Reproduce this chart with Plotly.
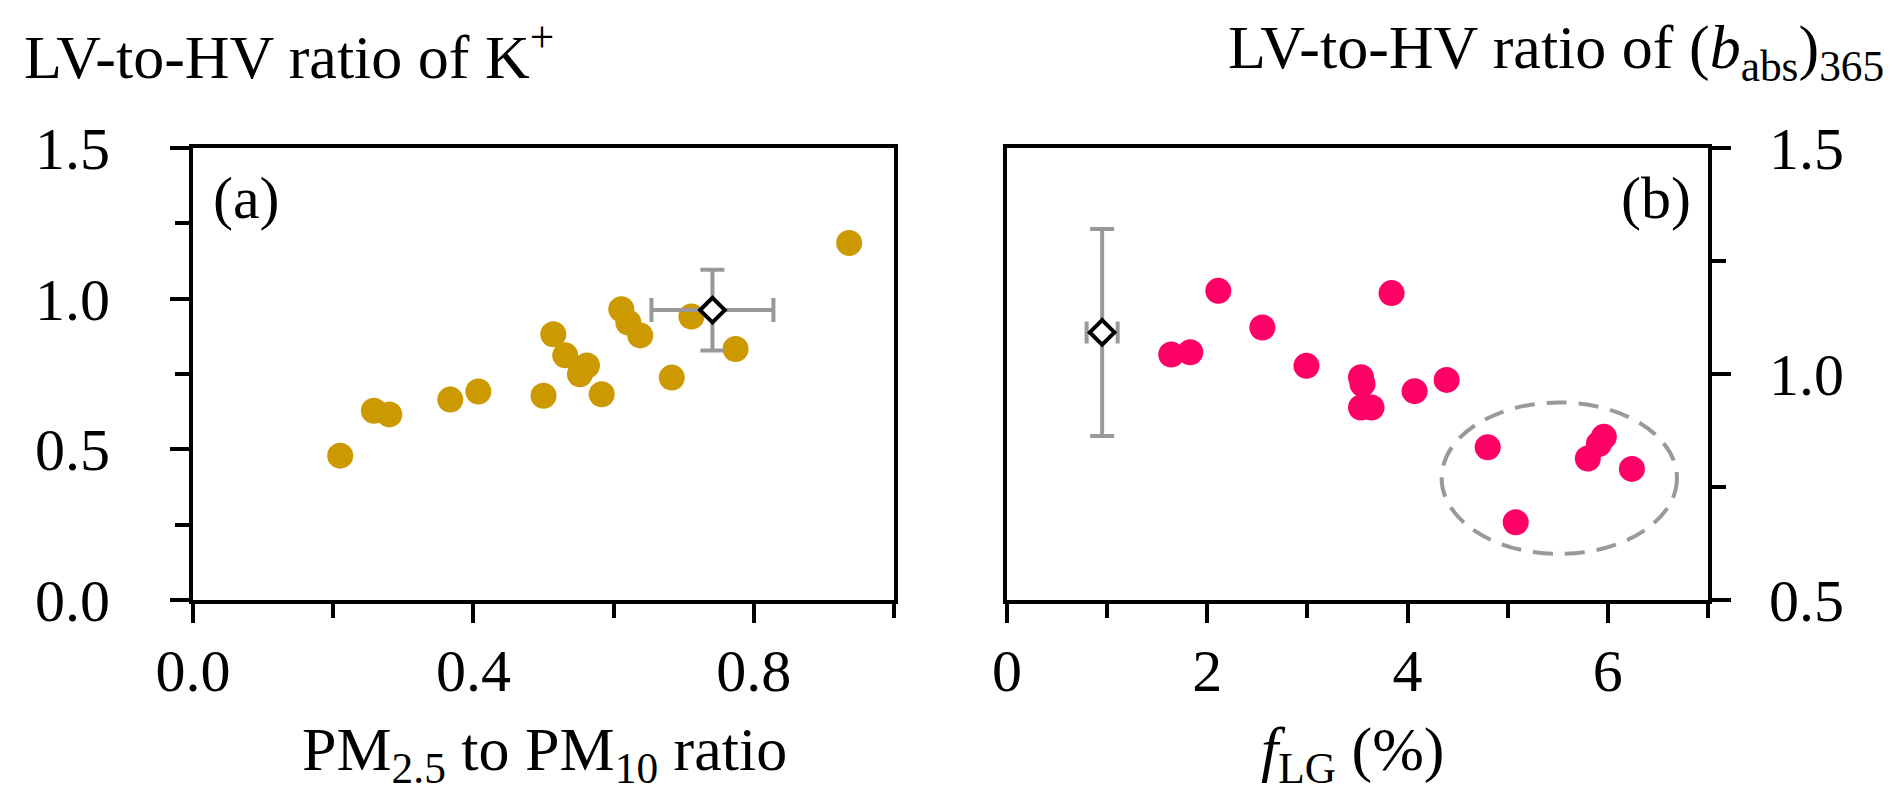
import plotly.graph_objects as go

# panel (a): LV-to-HV ratio of K+ vs PM2.5/PM10
pm_ratio = [0.210, 0.258, 0.280, 0.367, 0.407, 0.500, 0.514, 0.531, 0.552,
            0.562, 0.583, 0.611, 0.621, 0.638, 0.683, 0.711, 0.774, 0.936]
k_ratio = [0.479, 0.628, 0.616, 0.665, 0.692, 0.678, 0.882, 0.812, 0.749,
           0.778, 0.683, 0.965, 0.921, 0.878, 0.738, 0.941, 0.833, 1.185]
a_mean_x = [0.741]
a_mean_y = [0.962]
a_err_x = [0.087]
a_err_y = [0.134]

# panel (b): LV-to-HV ratio of (b_abs)365 vs f_LG
f_lg = [1.64, 1.83, 2.11, 2.55, 2.99, 3.535, 3.55, 3.535, 3.64,
        3.84, 4.07, 4.39, 4.80, 5.96, 5.91, 5.80, 6.24, 5.08]
babs_ratio = [1.043, 1.048, 1.184, 1.103, 1.018, 0.993, 0.978, 0.926, 0.926,
              1.179, 0.962, 0.987, 0.838, 0.861, 0.845, 0.813, 0.790, 0.672]
b_mean_x = [0.95]
b_mean_y = [1.092]
b_err_x = [0.155]
b_err_y = [0.229]

# dashed ellipse around the high f_LG group (data units)
ellipse_x = [4.34, 6.69]
ellipse_y = [0.602, 0.937]

W, H = 1892, 806
FONT = "Liberation Serif"
GOLD = '#CC9900'
PINK = '#FF0066'
GREY = '#999999'


def px_x(p):
    return p / W


def px_y(p):
    return 1 - p / H


fig = go.Figure()

fig.add_trace(go.Scatter(x=pm_ratio, y=k_ratio, mode='markers',
                         marker=dict(color=GOLD, size=26, line=dict(width=0)),
                         xaxis='x', yaxis='y', showlegend=False))
fig.add_trace(go.Scatter(x=a_mean_x, y=a_mean_y, mode='markers',
                         marker=dict(symbol='diamond', color='white', size=19,
                                     line=dict(color='black', width=4)),
                         error_x=dict(type='data', array=a_err_x, color=GREY, thickness=4, width=12),
                         error_y=dict(type='data', array=a_err_y, color=GREY, thickness=4, width=12),
                         xaxis='x', yaxis='y', showlegend=False))

fig.add_trace(go.Scatter(x=f_lg, y=babs_ratio, mode='markers',
                         marker=dict(color=PINK, size=26, line=dict(width=0)),
                         xaxis='x2', yaxis='y2', showlegend=False))
fig.add_trace(go.Scatter(x=b_mean_x, y=b_mean_y, mode='markers',
                         marker=dict(symbol='diamond', color='white', size=19,
                                     line=dict(color='black', width=4)),
                         error_x=dict(type='data', array=b_err_x, color=GREY, thickness=4, width=11),
                         error_y=dict(type='data', array=b_err_y, color=GREY, thickness=4, width=12),
                         xaxis='x2', yaxis='y2', showlegend=False))

fig.add_shape(type='circle', xref='x2', yref='y2',
              x0=ellipse_x[0], x1=ellipse_x[1], y0=ellipse_y[0], y1=ellipse_y[1],
              line=dict(color=GREY, width=4, dash='20px,12px'), layer='below')

axis_common = dict(showline=True, linecolor='black', linewidth=4, mirror=True,
                   showgrid=False, zeroline=False, ticks='outside', ticklen=19,
                   tickwidth=4, tickcolor='black', automargin=False,
                   tickfont=dict(family=FONT, size=60, color='black'))
minor_common = dict(ticks='outside', ticklen=14, tickwidth=4, tickcolor='black', showgrid=False)

fig.update_layout(
    width=W, height=H,
    margin=dict(l=0, r=0, t=0, b=0),
    paper_bgcolor='white', plot_bgcolor='white',
    font=dict(family=FONT, size=60, color='black'),
    xaxis=dict(axis_common, domain=[px_x(185), px_x(886)], range=[0, 1],
               tickvals=[0, 0.4, 0.8], tickformat='.1f', ticklabelstandoff=-4,
               minor=dict(minor_common, tickvals=[0.2, 0.6, 1.0]), anchor='y'),
    yaxis=dict(axis_common, domain=[px_y(592), px_y(140)], range=[0, 1.5],
               tickvals=[0, 0.5, 1.0, 1.5], tickformat='.1f', ticklabelstandoff=48,
               minor=dict(minor_common, tickvals=[0.25, 0.75, 1.25]), anchor='x'),
    xaxis2=dict(axis_common, domain=[px_x(999), px_x(1700)], range=[0, 7],
                tickvals=[0, 2, 4, 6], ticklabelstandoff=-4,
                minor=dict(minor_common, tickvals=[1, 3, 5, 7]), anchor='y2'),
    yaxis2=dict(axis_common, domain=[px_y(592), px_y(140)], range=[0.5, 1.5],
                tickvals=[0.5, 1.0, 1.5], tickformat='.1f', side='right', ticklabelstandoff=26,
                minor=dict(minor_common, tickvals=[0.75, 1.25]), anchor='x2'),
)

ann = dict(xref='paper', yref='paper', showarrow=False,
           font=dict(family=FONT, size=62, color='black'))
fig.add_annotation(ann, text='LV-to-HV ratio of K<sup>+</sup>',
                   x=px_x(14), y=px_y(44), xanchor='left', yanchor='middle')
fig.add_annotation(ann, text='LV-to-HV ratio of (<i>b</i><sub>abs</sub>)<sub>365</sub>',
                   x=px_x(1878), y=px_y(44), xanchor='right', yanchor='middle')
fig.add_annotation(ann, text='PM<sub>2.5</sub> to PM<sub>10</sub> ratio',
                   x=px_x(536), y=px_y(745), xanchor='center', yanchor='middle')
fig.add_annotation(ann, text='<i>f</i><sub>LG</sub> (%)',
                   x=px_x(1345), y=px_y(745), xanchor='center', yanchor='middle')
fig.add_annotation(ann, text='(a)', font=dict(family=FONT, size=60, color='black'),
                   x=px_x(203), y=px_y(190), xanchor='left', yanchor='middle')
fig.add_annotation(ann, text='(b)', font=dict(family=FONT, size=60, color='black'),
                   x=px_x(1685), y=px_y(190), xanchor='right', yanchor='middle')

fig.write_html("out.html")
